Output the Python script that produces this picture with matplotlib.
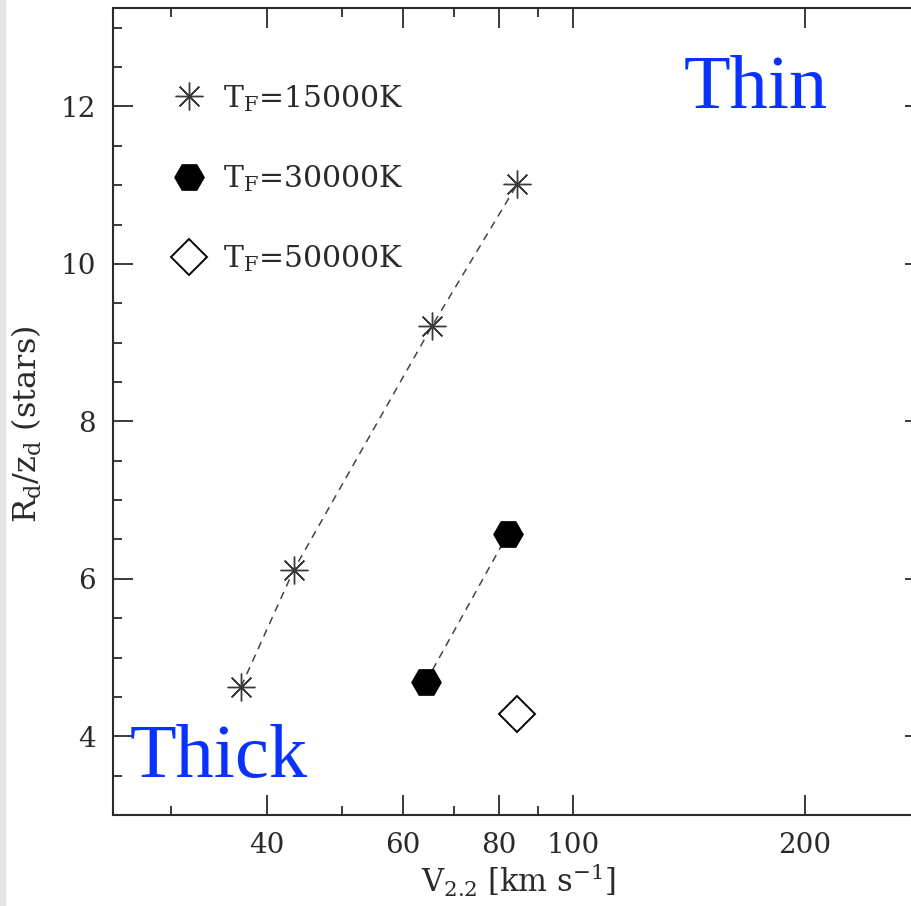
import numpy as np
import matplotlib
matplotlib.use("Agg")
import matplotlib.pyplot as plt
from matplotlib.ticker import FixedLocator, NullFormatter, MultipleLocator
from matplotlib.patches import Rectangle

plt.rcParams['font.family'] = 'DejaVu Serif'
plt.rcParams['mathtext.fontset'] = 'dejavuserif'
plt.rcParams['axes.linewidth'] = 1.5
plt.rcParams['xtick.direction'] = 'in'
plt.rcParams['ytick.direction'] = 'in'

# data
v15 = [37.0, 43.3, 65.5, 84.5]
r15 = [4.63, 6.11, 9.21, 11.01]
v30 = [64.3, 82.2]
r30 = [4.69, 6.57]
v50 = [84.5]
r50 = [4.28]

labels = [r'T$_{\rm F}$=15000K', r'T$_{\rm F}$=30000K', r'T$_{\rm F}$=50000K']
xmajor = [40, 60, 80, 100, 200]
xminor = [30, 50, 70, 90]

ink = '#2a2a2a'

fig = plt.figure(figsize=(9.12, 9.06), dpi=100)
# axes box runs a little past the right edge, as in the scan
ax = fig.add_axes([112.7/912, 91/906, 812/912, 807/906])

# light grey strip at left edge of the scan
fig.patches.append(Rectangle((0, 0), 5/912, 1, transform=fig.transFigure,
                             color='#e6e6e6', zorder=0))

ax.plot(v15, r15, ls=(0, (5, 4)), lw=1.1, color='#444444', zorder=1)
ax.plot(v30, r30, ls=(0, (5, 4)), lw=1.1, color='#444444', zorder=1)

ax.plot(v15, r15, ls='none', marker=(8, 2, 0), ms=20, mew=1.0, color='#3a3a3a',
        label=labels[0], zorder=3)
ax.plot(v30, r30, ls='none', marker='H', ms=21, color='black', label=labels[1], zorder=3)
ax.plot(v50, r50, ls='none', marker='D', ms=18, mfc='white', mec='black', mew=1.4,
        label=labels[2], zorder=3)

ax.set_xscale('log')
ax.set_xlim(25.2, 286)
ax.set_ylim(3, 13.25)

ax.xaxis.set_major_locator(FixedLocator(xmajor))
ax.xaxis.set_minor_locator(FixedLocator(xminor))
ax.set_xticklabels([str(v) for v in xmajor])
ax.xaxis.set_minor_formatter(NullFormatter())
ax.yaxis.set_major_locator(MultipleLocator(2))
ax.yaxis.set_minor_locator(MultipleLocator(0.5))

ax.tick_params(which='both', top=True, right=True, colors=ink, labelsize=20)
ax.tick_params(which='major', length=14.5, width=1.3, pad=12)
ax.tick_params(which='minor', length=6.5, width=1.3)
for s in ax.spines.values():
    s.set_color(ink)

ax.set_xlabel(r'V$_{2.2}$ [km s$^{-1}$]', fontsize=22, color=ink, labelpad=2)
ax.set_ylabel(r'R$_{\rm d}$/z$_{\rm d}$ (stars)', fontsize=23, color=ink)
ax.yaxis.set_label_coords(-0.084, 0.484)

leg = ax.legend(loc='upper left', bbox_to_anchor=(0.057, 0.922), frameon=False,
                numpoints=1, fontsize=21.5, labelspacing=1.65, handlelength=1.2,
                handletextpad=0.55, borderaxespad=0)
for t in leg.get_texts():
    t.set_color(ink)

ax.text(0.703, 0.876, 'Thin', transform=ax.transAxes, fontsize=55,
        family='Liberation Serif', color='#0a32ff', va='baseline')
ax.text(0.021, 0.047, 'Thick', transform=ax.transAxes, fontsize=55,
        family='Liberation Serif', color='#0a32ff', va='baseline')

fig.savefig('out.png', dpi=100)
